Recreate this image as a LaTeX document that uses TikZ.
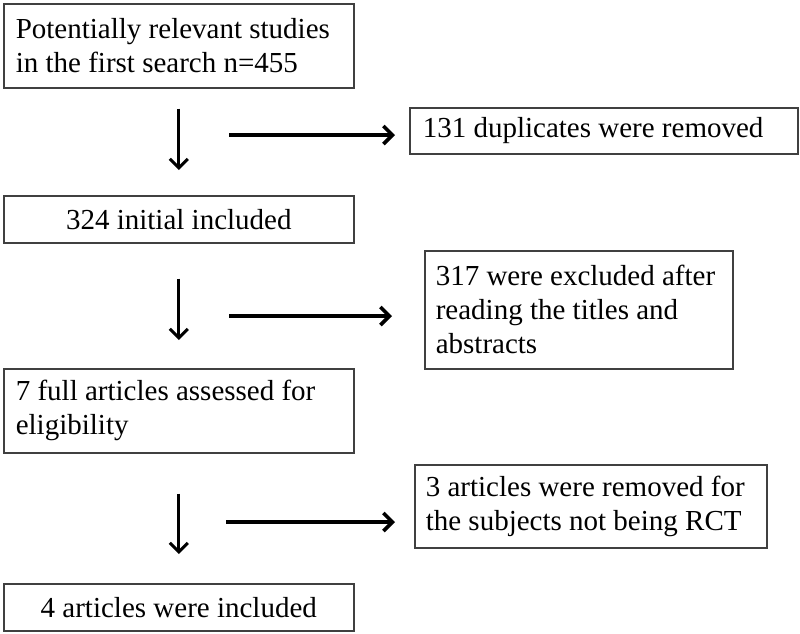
\documentclass[tikz,border=0pt]{standalone}
\usepackage{fontspec}
\setmainfont{Liberation Serif}
\usetikzlibrary{arrows.meta}

\begin{document}
\begin{tikzpicture}[x=1pt, y=-1pt,
    box/.style={draw=black!75, line width=1.6pt, rectangle, anchor=north west,
      inner xsep=12pt, inner ysep=0pt, font=\fontsize{29}{34}\selectfont},
    arr/.style={line width=3pt, -{Straight Barb[length=9pt, width=18pt]}}]
    \useasboundingbox (0,0) rectangle (800,633);

    % Main column of the flow
    \node[box, minimum width=350pt, minimum height=84pt, text width=326pt, align=flush left]
      (b1) at (3,3) {Potentially relevant studies\\in the first search n=455};
    \node[box, minimum width=350pt, minimum height=47pt, text width=326pt, align=flush center]
      (b3) at (3,195) {324 initial included};
    \node[box, minimum width=350pt, minimum height=84pt, text width=326pt, align=flush left]
      (b5) at (3,368) {7 full articles assessed for\\eligibility};
    \node[box, minimum width=350pt, minimum height=47pt, text width=326pt, align=flush center]
      (b7) at (3,583) {4 articles were included};

    % Side boxes with removed studies
    \node[box, inner xsep=13pt, minimum width=388pt, minimum height=46pt, text width=362pt, align=flush left]
      (b2) at (409,107) {131 duplicates were removed};
    \node[box, inner xsep=11pt, minimum width=308pt, minimum height=118pt, text width=286pt, align=flush left]
      (b4) at (424,250) {317 were excluded after\\reading the titles and\\abstracts};
    \node[box, inner xsep=11pt, minimum width=352pt, minimum height=83pt, text width=330pt, align=flush left]
      (b6) at (414,464) {3 articles were removed for\\the subjects not being RCT};

    % Downward arrows
    \draw[arr, shorten <=20pt, shorten >=25pt] (b1.south) -- (b3.north);
    \draw[arr, shorten <=35pt, shorten >=28pt] (b3.south) -- (b5.north);
    \draw[arr, shorten <=40pt, shorten >=29pt] (b5.south) -- (b7.north);

    % Arrows to the side boxes
    \coordinate (h1) at (229,135);
    \coordinate (h2) at (229,316);
    \coordinate (h3) at (226,522);
    \draw[arr, line width=3.6pt, shorten >=14pt] (h1) -- (h1 -| b2.west);
    \draw[arr, line width=3.6pt, shorten >=32pt] (h2) -- (h2 -| b4.west);
    \draw[arr, line width=3.6pt, shorten >=19pt] (h3) -- (h3 -| b6.west);
\end{tikzpicture}
\end{document}
